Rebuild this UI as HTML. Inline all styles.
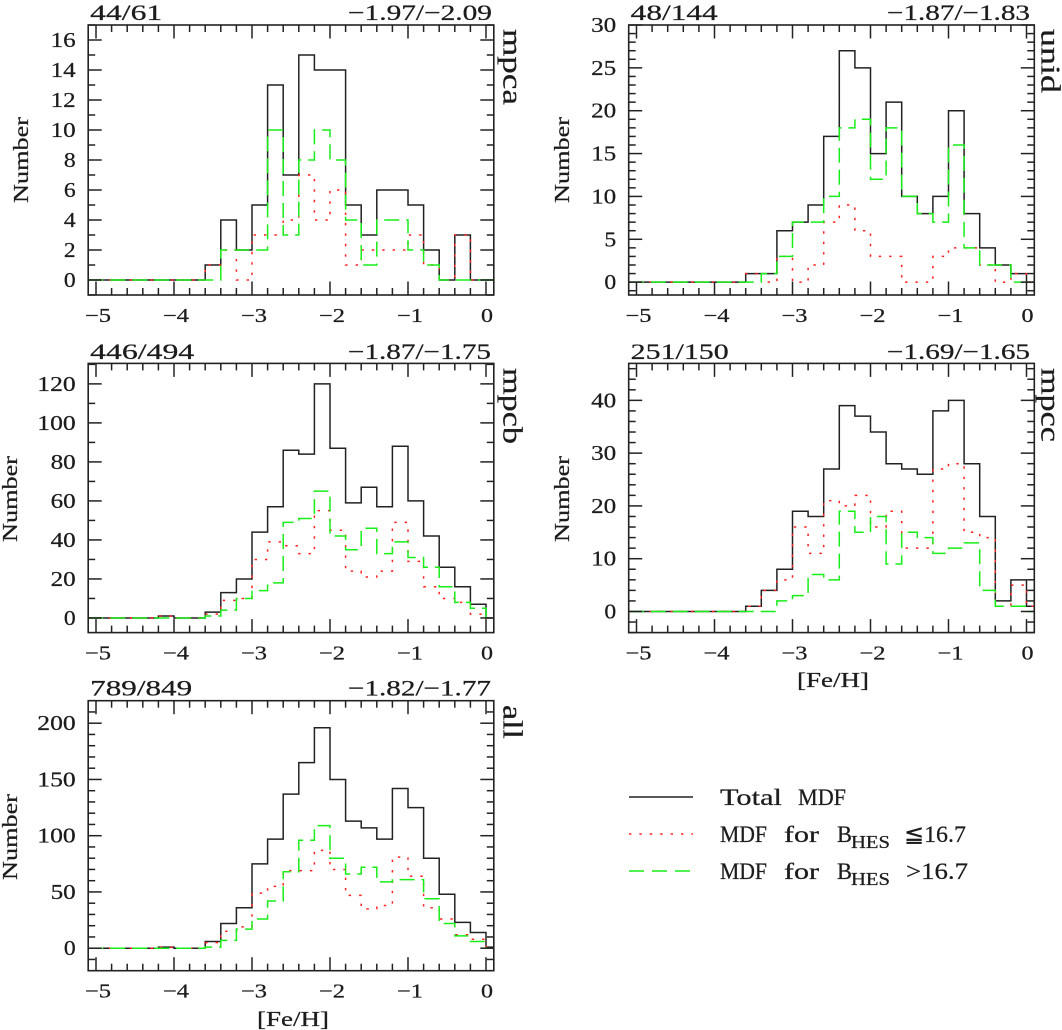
<!DOCTYPE html>
<html>
<head>
<meta charset="utf-8">
<title>MDF histograms</title>
<style>
html,body{margin:0;padding:0;background:#fff;}
svg{display:block;}
text{font-family:"Liberation Serif","DejaVu Serif",serif;fill:#1c1c1c;stroke:#1c1c1c;stroke-width:0.25;}
</style>
</head>
<body>
<svg id="chart" xmlns="http://www.w3.org/2000/svg" width="1062" height="1030" viewBox="0 0 1062 1030">
  <g id="panels"></g>
  <g>
    <g>
      <line x1="629" y1="797" x2="693" y2="797" stroke="#222" stroke-width="1.4"/>
      <text x="720" y="805" font-size="23" textLength="62" lengthAdjust="spacingAndGlyphs">Total</text>
      <text x="798" y="805" font-size="23" textLength="48" lengthAdjust="spacingAndGlyphs">MDF</text>
    </g>
    <g>
      <line x1="629" y1="834" x2="693" y2="834" stroke="#ff2020" stroke-width="1.5" stroke-dasharray="2.4 8"/>
      <text x="720" y="842" font-size="23" textLength="47" lengthAdjust="spacingAndGlyphs">MDF</text>
      <text x="784" y="842" font-size="23" textLength="35" lengthAdjust="spacingAndGlyphs">for</text>
      <text x="837" y="842" font-size="23" textLength="15" lengthAdjust="spacingAndGlyphs">B</text>
      <text x="851" y="848" font-size="18" textLength="39" lengthAdjust="spacingAndGlyphs">HES</text>
      <text x="904" y="842" font-size="23" textLength="62" lengthAdjust="spacingAndGlyphs" style="font-family:'Liberation Serif','DejaVu Sans',serif">≦16.7</text>
    </g>
    <g>
      <line x1="629" y1="871" x2="693" y2="871" stroke="#18ee18" stroke-width="1.5" stroke-dasharray="15 8"/>
      <text x="720" y="879" font-size="23" textLength="47" lengthAdjust="spacingAndGlyphs">MDF</text>
      <text x="784" y="879" font-size="23" textLength="35" lengthAdjust="spacingAndGlyphs">for</text>
      <text x="837" y="879" font-size="23" textLength="15" lengthAdjust="spacingAndGlyphs">B</text>
      <text x="851" y="885" font-size="18" textLength="39" lengthAdjust="spacingAndGlyphs">HES</text>
      <text x="906" y="879" font-size="23" textLength="62" lengthAdjust="spacingAndGlyphs">&gt;16.7</text>
    </g>
  </g>
</svg>
<script>
// Histogram bins: lower edge of the first bin and bin width, in [Fe/H]
const binStart = -5.2;
const binWidth = 0.2;
const xTickValues = [-5, -4, -3, -2, -1, 0];
const xTickLabels = ['\u22125', '\u22124', '\u22123', '\u22122', '\u22121', '0'];

// 27 bins from -5.2 to +0.2
const mpcaTotal = [0,0,0,0,0,0,0,0, 1,4,2,5,13,7,15,14,14,5,3,6,6,5,2,0,3,0,0];
const mpcaBright = [0,0,0,0,0,0,0,0, 1,2,0,3,3,4,7,4,6,1,2,2,2,3,1,0,3,0,0];
const mpcaFaint = [0,0,0,0,0,0,0,0, 0,2,2,2,10,3,8,10,8,4,1,4,4,2,1,0,0,0,0];
const mpcaYTicks = [0,2,4,6,8,10,12,14,16];

const unidTotal = [0,0,0,0,0,0,0,0, 1,1,6,7,9,17,27,25,15,21,10,8,10,20,8,4,2,1,0];
const unidBright = [0,0,0,0,0,0,0,0, 1,0,3,0,2,7,9,6,3,3,0,0,3,4,4,2,0,1,0];
const unidFaint = [0,0,0,0,0,0,0,0, 0,1,3,7,7,10,18,19,12,18,10,8,7,16,4,2,2,0,0];
const unidYTicks = [0,5,10,15,20,25,30];

const mpcbTotal = [0,0,0,0,0,1,0,0, 3,13,20,44,57,86,84,120,87,59,67,57,88,60,42,26,16,7,0];
const mpcbBright = [0,0,0,0,0,1,0,0, 2,9,10,30,39,37,33,55,45,24,21,24,49,29,16,10,8,2,0];
const mpcbFaint = [0,0,0,0,0,0,0,0, 1,4,10,14,18,49,51,65,42,35,46,33,39,31,26,16,8,5,0];
const mpcbYTicks = [0,20,40,60,80,100,120];

const mpccTotal = [0,0,0,0,0,0,0,0, 1,4,8,19,18,27,39,37,34,28,27,26,38,40,28,18,2,6,1];
const mpccBright = [0,0,0,0,0,0,0,0, 1,4,6,16,11,21,20,22,16,19,12,12,27,28,15,14,1,5,1];
const mpccFaint = [0,0,0,0,0,0,0,0, 0,0,2,3,7,6,19,15,18,9,15,14,11,12,13,4,1,1,0];
const mpccYTicks = [0,10,20,30,40];

const allTotal = [0,0,0,0,0,1,0,0, 6,22,36,75,97,137,165,196,150,113,107,97,142,125,80,48,23,14,1];
const allBright = [0,0,0,0,0,1,0,0, 5,15,19,49,55,69,69,87,70,47,35,38,81,64,36,26,12,8,1];
const allFaint = [0,0,0,0,0,0,0,0, 1,7,17,26,42,68,96,109,80,66,72,59,61,61,44,22,11,6,0];
const allYTicks = [0,50,100,150,200];

const SVGNS = 'http://www.w3.org/2000/svg';
const root = document.getElementById('panels');
const xDomain = [-5.1, 0.1];

const panels = [
  {key:'mpca', total:mpcaTotal, bright:mpcaBright, faint:mpcaFaint, yTicks:mpcaYTicks, minor:1,
   yMin:-1, yMax:17, left:88.2, top:25, bottom:295,
   count:'44/61', countLen:72, mean:'\u22121.97/\u22122.09', meanLeft:348, meanLen:144, headY:20,
   tag:'mpca', tagLen:76, tagX:503.3, tagY:29, numX:28, numY:160, showX:false},
  {key:'unid', total:unidTotal, bright:unidBright, faint:unidFaint, yTicks:unidYTicks, minor:1,
   yMin:-1.5, yMax:30, left:628.7, top:25, bottom:295,
   count:'48/144', countLen:87, mean:'\u22121.87/\u22121.83', meanLeft:887, meanLen:143, headY:20,
   tag:'unid', tagLen:64, tagX:1041.7, tagY:29, numX:569, numY:160, showX:false},
  {key:'mpcb', total:mpcbTotal, bright:mpcbBright, faint:mpcbFaint, yTicks:mpcbYTicks, minor:10,
   yMin:-7.5, yMax:130.5, left:88.2, top:363.4, bottom:632.6,
   count:'446/494', countLen:104, mean:'\u22121.87/\u22121.75', meanLeft:348, meanLen:143, headY:359,
   tag:'mpcb', tagLen:76, tagX:503.3, tagY:368, numX:17, numY:499, showX:false},
  {key:'mpcc', total:mpccTotal, bright:mpccBright, faint:mpccFaint, yTicks:mpccYTicks, minor:2,
   yMin:-4, yMax:47, left:628.7, top:363.4, bottom:632.6,
   count:'251/150', countLen:98, mean:'\u22121.69/\u22121.65', meanLeft:887, meanLen:143, headY:359,
   tag:'mpcc', tagLen:74, tagX:1041.7, tagY:368, numX:569, numY:499, showX:true, feX:797, feY:687},
  {key:'all', total:allTotal, bright:allBright, faint:allFaint, yTicks:allYTicks, minor:10,
   yMin:-20, yMax:220, left:88.2, top:700.7, bottom:970.7,
   count:'789/849', countLen:102, mean:'\u22121.82/\u22121.77', meanLeft:348, meanLen:143, headY:695.5,
   tag:'all', tagLen:34, tagX:503.3, tagY:705, numX:17, numY:837, showX:true, feX:257, feY:1026}
];

const boxWidth = 405.6;
const seriesStyles = {
  total:{stroke:'#222222', dash:null, width:1.5},
  bright:{stroke:'#ff2020', dash:'2.4 8', width:1.5},
  faint:{stroke:'#18ee18', dash:'15 7', width:1.5}
};

function makeLine(parent, x1, y1, x2, y2, name) {
  const el = document.createElementNS(SVGNS, 'line');
  el.setAttribute('x1', x1);
  el.setAttribute('y1', y1);
  el.setAttribute('x2', x2);
  el.setAttribute('y2', y2);
  el.setAttribute('stroke', '#222222');
  el.setAttribute('stroke-width', '1.5');
  
  
  parent.appendChild(el);
}

function makeText(parent, str, x, y, size, len, anchor, name, transform) {
  const el = document.createElementNS(SVGNS, 'text');
  el.textContent = str;
  el.setAttribute('x', x);
  el.setAttribute('y', y);
  el.setAttribute('font-size', size);
  el.setAttribute('textLength', len);
  el.setAttribute('lengthAdjust', 'spacingAndGlyphs');
  el.setAttribute('text-anchor', anchor);
  if (transform) el.setAttribute('transform', transform);
  
  
  parent.appendChild(el);
}

function stepPath(values, xScale, yScale) {
  let d = '';
  values.forEach(function (v, i) {
    const a = Math.max(binStart + i * binWidth, xDomain[0]);
    const b = Math.min(binStart + (i + 1) * binWidth, xDomain[1]);
    d += (i === 0 ? 'M' : 'L') + xScale(a).toFixed(2) + ' ' + yScale(v).toFixed(2);
    d += 'L' + xScale(b).toFixed(2) + ' ' + yScale(v).toFixed(2);
  });
  return d;
}

panels.forEach(function (p) {
  const right = p.left + boxWidth;
  const xScale = function (v) { return p.left + (v - xDomain[0]) / (xDomain[1] - xDomain[0]) * boxWidth; };
  const yScale = function (v) { return p.bottom - (v - p.yMin) / (p.yMax - p.yMin) * (p.bottom - p.top); };

  const g = document.createElementNS(SVGNS, 'g');
  
  
  root.appendChild(g);

  // series
  [['total', p.total], ['bright', p.bright], ['faint', p.faint]].forEach(function (s) {
    const st = seriesStyles[s[0]];
    const path = document.createElementNS(SVGNS, 'path');
    path.setAttribute('d', stepPath(s[1], xScale, yScale));
    path.setAttribute('fill', 'none');
    path.setAttribute('stroke', st.stroke);
    path.setAttribute('stroke-width', st.width);
    if (st.dash) path.setAttribute('stroke-dasharray', st.dash);
    
    
    g.appendChild(path);
  });

  // frame
  const frame = document.createElementNS(SVGNS, 'rect');
  frame.setAttribute('x', p.left);
  frame.setAttribute('y', p.top);
  frame.setAttribute('width', boxWidth);
  frame.setAttribute('height', p.bottom - p.top);
  frame.setAttribute('fill', 'none');
  frame.setAttribute('stroke', '#222222');
  frame.setAttribute('stroke-width', '1.6');
  
  
  g.appendChild(frame);

  // x minor and major ticks, on top and bottom
  for (let k = -25; k <= 0; k++) {
    const v = k * 0.2;
    const isMajor = k % 5 === 0;
    const len = isMajor ? 13.5 : 7;
    const px = xScale(v);
    makeLine(g, px, p.bottom, px, p.bottom - len, p.key + '-x-tick-bottom');
    makeLine(g, px, p.top, px, p.top + len, p.key + '-x-tick-top');
  }
  xTickValues.forEach(function (v, i) {
    const label = xTickLabels[i];
    const len = label.length > 1 ? 26 : 12;
    const cx = xScale(v) + (label.length > 1 ? 2 : 1);
    makeText(g, label, cx, p.bottom + 27, 20, len, 'middle', p.key + '-x-tick-label');
  });

  // y ticks, on left and right
  const firstMinor = Math.ceil(p.yMin / p.minor);
  const lastMinor = Math.floor(p.yMax / p.minor);
  for (let k = firstMinor; k <= lastMinor; k++) {
    const v = k * p.minor;
    const isMajor = p.yTicks.indexOf(v) !== -1 || v % (p.yTicks[1] - p.yTicks[0]) === 0;
    const len = isMajor ? 13.5 : 7;
    const py = yScale(v);
    makeLine(g, p.left, py, p.left + len, py, p.key + '-y-tick-left');
    makeLine(g, right, py, right - len, py, p.key + '-y-tick-right');
  }
  p.yTicks.forEach(function (v) {
    const label = String(v);
    makeText(g, label, p.left - 12.5, yScale(v) + 7, 21, label.length * 13.3 - 1.5, 'end', p.key + '-y-tick-label');
  });

  // panel annotations
  makeText(g, p.count, p.left + 2, p.headY, 22, p.countLen, 'start', p.key + '-star-counts');
  makeText(g, p.mean, p.meanLeft, p.headY, 22, p.meanLen, 'start', p.key + '-mean-metallicities');
  makeText(g, p.tag, p.tagX, p.tagY, 27, p.tagLen, 'start', p.key + '-sample-label',
           'rotate(90 ' + p.tagX + ' ' + p.tagY + ')');
  makeText(g, 'Number', p.numX, p.numY, 21, 86, 'middle', p.key + '-y-axis-title',
           'rotate(-90 ' + p.numX + ' ' + p.numY + ')');
  if (p.showX) {
    makeText(g, '[Fe/H]', p.feX, p.feY, 21, 72, 'start', p.key + '-x-axis-title');
  }
});
</script>
</body>
</html>
